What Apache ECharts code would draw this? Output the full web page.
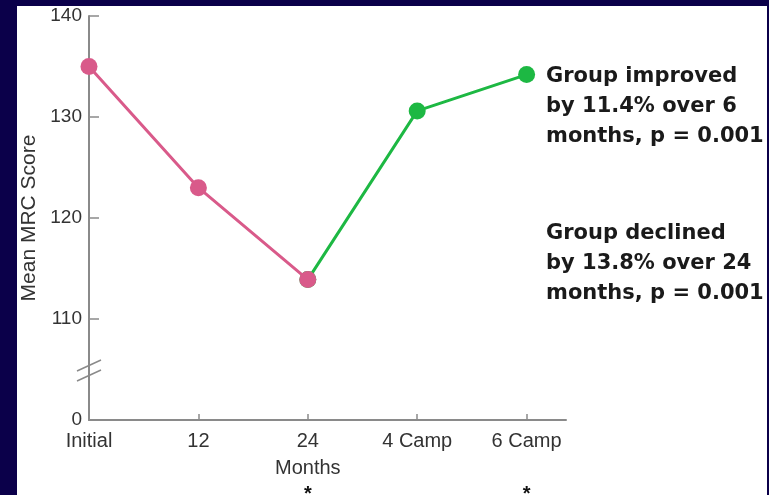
<!DOCTYPE html>
<html>
<head>
<meta charset="utf-8">
<script src="https://cdn.jsdelivr.net/npm/echarts@6/dist/echarts.min.js"></script>
<style>
  html, body { margin: 0; padding: 0; background: #0b004a; }
  #panel { position: absolute; left: 17px; top: 6px; width: 750px; height: 489px; background: #ffffff; }
  #chart { position: absolute; left: 0; top: 0; width: 769px; height: 495px; }
</style>
</head>
<body>
<div id="panel"></div>
<div id="chart"></div>
<script>
// Time points along the x axis
const categories = ['Initial', '12', '24', '4 Camp', '6 Camp'];
// Mean MRC score at each time point
const scores = [135.0, 123.0, 113.9, 130.6, 134.2];
// Decline phase covers the first three points, improvement phase the last three
const declineIdx = [0, 1, 2];
const improveIdx = [2, 3, 4];
// Y tick values and their printed labels (the bottom of the axis is the broken-off origin)
const yTickValues = [100, 110, 120, 130, 140];
const yTickLabels = ['0', '110', '120', '130', '140'];
// Extra lines printed under particular x labels
const xSubLabels = { '24': 'Months', '6 Camp': '' };
const starred = ['24', '6 Camp'];

const declineData = declineIdx.map(i => [i, scores[i]]);
const improveData = improveIdx.map(i => [i, scores[i]]);

const chart = echarts.init(document.getElementById('chart'), null, { renderer: 'canvas' });

const axisGray = '#8a8a8a';
const textGray = '#333333';
const baseFont = 'Liberation Sans, Arial, Helvetica, sans-serif';

chart.setOption({
  backgroundColor: 'transparent',
  animation: false,
  grid: { left: 89, right: 203, top: 16, bottom: 75, outerBoundsMode: 'none', containLabel: false },
  xAxis: {
    type: 'value',
    min: 0,
    max: 4.36,
    splitLine: { show: false },
    axisLine: { show: true, lineStyle: { color: axisGray, width: 2 } },
    axisTick: { show: true, inside: true, length: 6, customValues: [1, 2, 3, 4], lineStyle: { color: axisGray, width: 1.5 } },
    axisLabel: {
      customValues: [0, 1, 2, 3, 4],
      margin: 11,
      color: textGray,
      fontFamily: baseFont,
      fontSize: 20,
      formatter: function (v) {
        const name = categories[Math.round(v)];
        let s = '{c|' + name + '}';
        if (name in xSubLabels || starred.indexOf(name) >= 0) {
          s += '\n{m|' + (xSubLabels[name] || ' ') + '}';
          s += '\n{s|' + (starred.indexOf(name) >= 0 ? '*' : ' ') + '}';
        }
        return s;
      },
      rich: {
        c: { fontSize: 20, lineHeight: 20, color: textGray, fontFamily: baseFont },
        m: { fontSize: 20, lineHeight: 34, color: textGray, fontFamily: baseFont },
        s: { fontSize: 20, fontWeight: 'bold', lineHeight: 18, color: '#111', fontFamily: baseFont }
      }
    }
  },
  yAxis: {
    type: 'value',
    min: 100,
    max: 140,
    name: 'Mean MRC Score',
    nameLocation: 'middle',
    nameGap: 43,
    nameRotate: 90,
    nameTextStyle: { color: textGray, fontFamily: baseFont, fontSize: 21 },
    splitLine: { show: false },
    axisLine: { show: true, lineStyle: { color: axisGray, width: 2 } },
    axisTick: { show: true, inside: true, length: 10, customValues: [110, 120, 130, 140], lineStyle: { color: axisGray, width: 1.5 } },
    axisLabel: {
      customValues: yTickValues,
      margin: 7,
      color: textGray,
      fontFamily: baseFont,
      fontSize: 19,
      formatter: function (v) {
        const k = yTickValues.indexOf(Math.round(v));
        return k >= 0 ? yTickLabels[k] : '';
      }
    }
  },
  series: [
    {
      name: 'Improvement',
      type: 'line',
      data: improveData,
      symbol: 'circle',
      symbolSize: 17,
      z: 2,
      lineStyle: { color: '#1db843', width: 3 },
      itemStyle: { color: '#1db843' }
    },
    {
      name: 'Decline',
      type: 'line',
      data: declineData,
      symbol: 'circle',
      symbolSize: 17,
      z: 3,
      lineStyle: { color: '#d95a8a', width: 3 },
      itemStyle: { color: '#d95a8a' }
    }
  ]
});

// Annotation text on the right and the axis-break slashes
const annoStyle = {
  fill: '#1a1a1a',
  font: 'bold 21px "DejaVu Sans", sans-serif',
  lineHeight: 30
};
const brk = chart.convertToPixel({ gridIndex: 0 }, [0, 104.9]);
chart.setOption({
  graphic: [
    {
      type: 'text', left: 546, top: 62,
      style: Object.assign({ text: 'Group improved\nby 11.4% over 6\nmonths, p = 0.001' }, annoStyle)
    },
    {
      type: 'text', left: 546, top: 219,
      style: Object.assign({ text: 'Group declined\nby 13.8% over 24\nmonths, p = 0.001' }, annoStyle)
    },
    {
      type: 'line', z: 10,
      shape: { x1: brk[0] - 12, y1: brk[1] + 0.5, x2: brk[0] + 12, y2: brk[1] - 10.5 },
      style: { stroke: axisGray, lineWidth: 1.5 }
    },
    {
      type: 'line', z: 10,
      shape: { x1: brk[0] - 12, y1: brk[1] + 10.5, x2: brk[0] + 12, y2: brk[1] - 0.5 },
      style: { stroke: axisGray, lineWidth: 1.5 }
    }
  ]
});
</script>
</body>
</html>
